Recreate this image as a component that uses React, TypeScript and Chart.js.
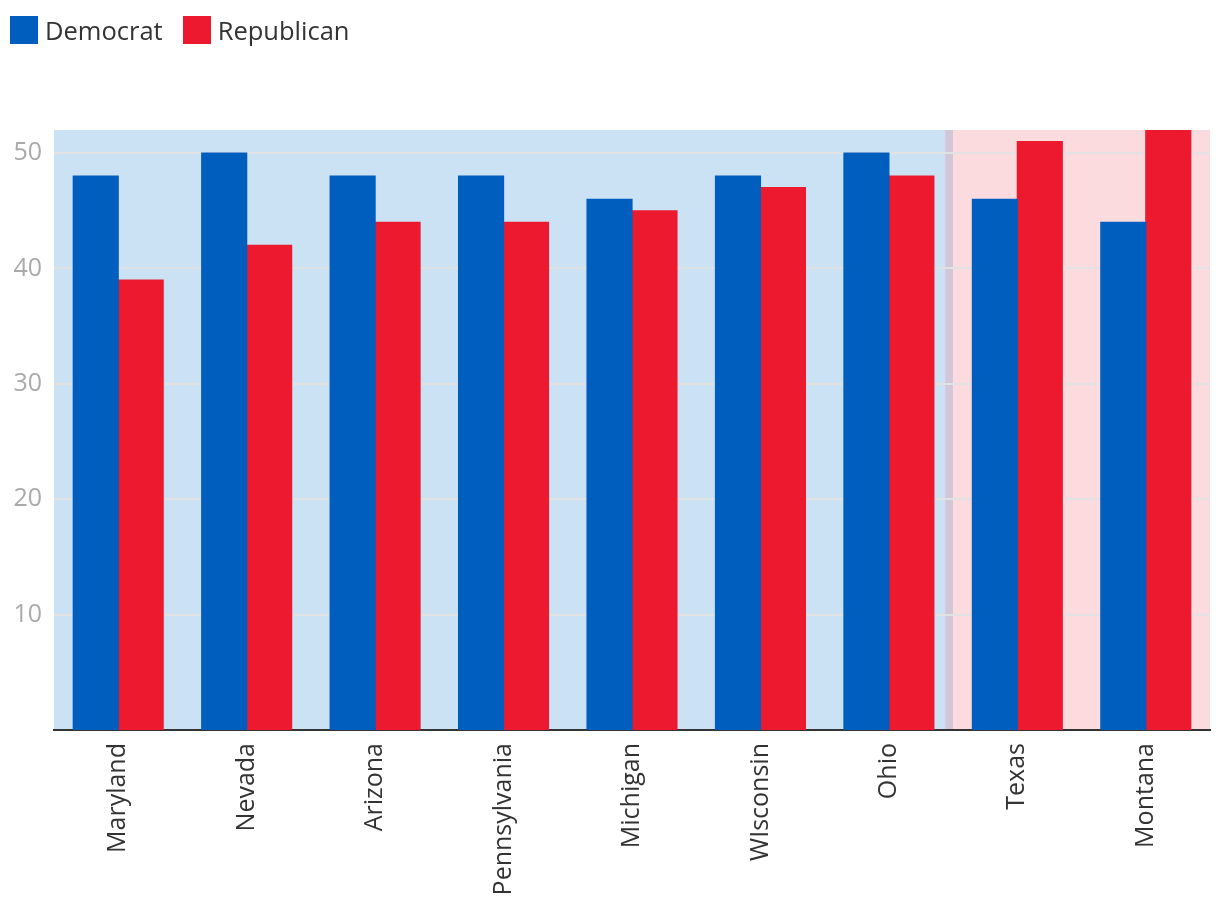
import React, { useEffect, useRef } from "react";
import { Chart, registerables } from "chart.js";

Chart.register(...registerables);

const categories = ["Maryland", "Nevada", "Arizona", "Pennsylvania", "Michigan", "WIsconsin", "Ohio", "Texas", "Montana"];
const democrat = [48, 50, 48, 48, 46, 48, 50, 46, 44];
const republican = [39, 42, 44, 44, 45, 47, 48, 51, 52];
const yTicks = [10, 20, 30, 40, 50];
const seriesNames = ["Democrat", "Republican"];
const seriesColors = ["#005fbe", "#ed1a2f"];

const FONT = "'Open Sans', Lato, sans-serif";

const bgPlugin = {
  id: "bgRegions",
  beforeDraw(chart: any) {
    const { ctx, chartArea, scales } = chart;
    const x = scales.x;
    const boundary = (x.getPixelForValue(6) + x.getPixelForValue(7)) / 2;
    const top = chartArea.top;
    const h = chartArea.bottom - chartArea.top;
    ctx.save();
    ctx.fillStyle = "#cbe2f5";
    ctx.fillRect(chartArea.left, top, boundary - 8 - chartArea.left, h);
    ctx.fillStyle = "#d3c6d9";
    ctx.fillRect(boundary - 8, top, 8, h);
    ctx.fillStyle = "#fcdbdf";
    ctx.fillRect(boundary, top, chartArea.right - boundary, h);
    ctx.restore();
  },
};

export default function App() {
  const ref = useRef<HTMLCanvasElement | null>(null);

  useEffect(() => {
    document.body.style.margin = "0";
    if (!ref.current) return;
    const chart = new Chart(ref.current, {
      type: "bar",
      data: {
        labels: categories,
        datasets: [
          { label: seriesNames[0], data: democrat, backgroundColor: seriesColors[0], borderWidth: 0, inflateAmount: 0.6 },
          { label: seriesNames[1], data: republican, backgroundColor: seriesColors[1], borderWidth: 0, inflateAmount: 0.6 },
        ],
      },
      options: {
        animation: false,
        responsive: false,
        maintainAspectRatio: false,
        layout: { padding: { top: 130, right: 10, left: 0, bottom: 0 } },
        datasets: { bar: { barPercentage: 1, categoryPercentage: 0.7 } },
        plugins: { legend: { display: false }, tooltip: { enabled: false } },
        scales: {
          x: {
            grid: { display: false, drawTicks: false },
            border: { display: true, color: "#333333", width: 2 },
            ticks: {
              color: "#333333",
              font: { family: FONT, size: 25 },
              maxRotation: 90,
              minRotation: 90,
              padding: 13,
              autoSkip: false,
            },
            afterFit: (axis: any) => {
              axis.height = 916 - 730;
            },
          },
          y: {
            min: 0,
            max: 52,
            afterBuildTicks: (axis: any) => {
              axis.ticks = yTicks.map((v) => ({ value: v }));
            },
            grid: { color: "#e2e2e2", lineWidth: 2, drawTicks: false },
            border: { display: false },
            ticks: {
              color: "#aaaaaa",
              font: { family: FONT, size: 25 },
              padding: 12,
            },
            afterFit: (axis: any) => {
              axis.width = 54;
            },
          },
        },
      },
      plugins: [bgPlugin],
    });
    return () => chart.destroy();
  }, []);

  return (
    <div style={{ position: "absolute", left: 0, top: 0, width: 1220, height: 916 }}>
      <canvas ref={ref} width={1220} height={916} style={{ position: "absolute", left: 0, top: 0 }} />
      <div style={{ position: "absolute", left: 10, top: 16, display: "flex", alignItems: "center", fontFamily: FONT, fontSize: 25.5, color: "#333333" }}>
        {seriesNames.map((n, i) => (
          <div key={n} style={{ display: "flex", alignItems: "center", marginRight: 20 }}>
            <span style={{ display: "inline-block", width: 28, height: 28, background: seriesColors[i], marginRight: 7 }} />
            <span style={{ lineHeight: "28px" }}>{n}</span>
          </div>
        ))}
      </div>
    </div>
  );
}
